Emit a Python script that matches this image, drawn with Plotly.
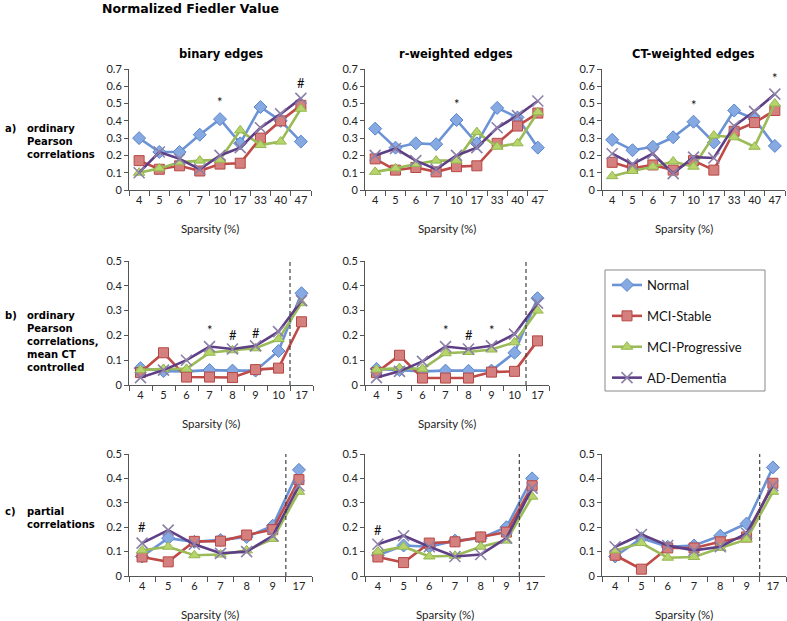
import plotly.graph_objects as go

W, H = 787, 621

groups = ["Normal", "MCI-Stable", "MCI-Progressive", "AD-Dementia"]
line_colors = ["#6b93d6", "#be4b48", "#9bbb59", "#5e3f86"]
marker_fill = ["#86a9e2", "#d3807e", "#b6d36c", "#b3a7c7"]
marker_line = ["#5a86cf", "#b84845", "#94b84f", "#8d80a8"]
symbols = ["diamond", "square", "triangle-up", "x-thin-open"]

cats_a = ["4", "5", "6", "7", "10", "17", "33", "40", "47"]
cats_b = ["4", "5", "6", "7", "8", "9", "10", "17"]
cats_c = ["4", "5", "6", "7", "8", "9", "17"]

# row a: ordinary Pearson correlations  [Normal, MCI-Stable, MCI-Progressive, AD-Dementia]
a_binary = [
    [0.30, 0.22, 0.22, 0.32, 0.41, 0.27, 0.48, 0.40, 0.28],
    [0.17, 0.12, 0.14, 0.11, 0.15, 0.155, 0.30, 0.40, 0.49],
    [0.10, 0.125, 0.16, 0.17, 0.175, 0.345, 0.26, 0.28, 0.47],
    [0.10, 0.22, 0.18, 0.12, 0.20, 0.245, 0.36, 0.44, 0.53],
]
a_rweighted = [
    [0.355, 0.245, 0.27, 0.265, 0.405, 0.27, 0.475, 0.42, 0.245],
    [0.18, 0.115, 0.13, 0.105, 0.135, 0.14, 0.27, 0.37, 0.445],
    [0.105, 0.125, 0.15, 0.17, 0.17, 0.335, 0.25, 0.27, 0.45],
    [0.20, 0.24, 0.17, 0.12, 0.20, 0.245, 0.36, 0.43, 0.515],
]
a_ctweighted = [
    [0.29, 0.23, 0.25, 0.305, 0.395, 0.275, 0.46, 0.41, 0.255],
    [0.16, 0.125, 0.145, 0.115, 0.17, 0.115, 0.34, 0.39, 0.46],
    [0.08, 0.11, 0.135, 0.165, 0.135, 0.315, 0.305, 0.25, 0.50],
    [0.21, 0.15, 0.21, 0.095, 0.19, 0.185, 0.37, 0.455, 0.555],
]
# row b: ordinary Pearson correlations, mean CT controlled
b_binary = [
    [0.068, 0.056, 0.055, 0.06, 0.058, 0.058, 0.137, 0.37],
    [0.05, 0.13, 0.032, 0.032, 0.03, 0.062, 0.068, 0.255],
    [0.06, 0.065, 0.065, 0.13, 0.14, 0.148, 0.185, 0.33],
    [0.03, 0.06, 0.10, 0.155, 0.145, 0.158, 0.215, 0.34],
]
b_rweighted = [
    [0.065, 0.06, 0.055, 0.058, 0.057, 0.058, 0.13, 0.35],
    [0.05, 0.12, 0.028, 0.028, 0.028, 0.052, 0.055, 0.178],
    [0.062, 0.068, 0.065, 0.128, 0.133, 0.143, 0.172, 0.30],
    [0.03, 0.055, 0.095, 0.155, 0.145, 0.158, 0.205, 0.33],
]
# row c: partial correlations
c_binary = [
    [0.08, 0.155, 0.14, 0.148, 0.16, 0.206, 0.435],
    [0.078, 0.058, 0.142, 0.143, 0.168, 0.19, 0.395],
    [0.105, 0.12, 0.085, 0.088, 0.105, 0.152, 0.345],
    [0.135, 0.188, 0.13, 0.093, 0.10, 0.165, 0.37],
]
c_rweighted = [
    [0.085, 0.125, 0.12, 0.145, 0.155, 0.20, 0.40],
    [0.078, 0.055, 0.135, 0.14, 0.16, 0.18, 0.37],
    [0.10, 0.12, 0.08, 0.083, 0.12, 0.145, 0.325],
    [0.13, 0.165, 0.12, 0.08, 0.088, 0.155, 0.36],
]
c_ctweighted = [
    [0.08, 0.155, 0.12, 0.125, 0.165, 0.215, 0.445],
    [0.085, 0.028, 0.115, 0.115, 0.14, 0.16, 0.38],
    [0.105, 0.135, 0.075, 0.078, 0.115, 0.15, 0.345],
    [0.12, 0.17, 0.125, 0.105, 0.12, 0.175, 0.37],
]

# significance marks: (category, value, symbol)
sig_a_binary = [("10", 0.51, "*"), ("47", 0.62, "#")]
sig_a_rweighted = [("10", 0.50, "*")]
sig_a_ctweighted = [("10", 0.49, "*"), ("47", 0.65, "*")]
sig_b_binary = [("7", 0.22, "*"), ("8", 0.20, "#"), ("9", 0.21, "#")]
sig_b_rweighted = [("7", 0.22, "*"), ("8", 0.20, "#"), ("9", 0.22, "*")]
sig_c_binary = [("4", 0.20, "#")]
sig_c_rweighted = [("4", 0.19, "#")]
sig_c_ctweighted = []

# layout in pixels: (x_left, x_right, y_top, y_bottom)
panels = [
    ((129, 311, 69, 190), cats_a, a_binary, 0.7, sig_a_binary, None),
    ((365, 548, 69, 190), cats_a, a_rweighted, 0.7, sig_a_rweighted, None),
    ((602, 785, 69, 190), cats_a, a_ctweighted, 0.7, sig_a_ctweighted, None),
    ((129, 313, 261, 385), cats_b, b_binary, 0.5, sig_b_binary, 6.5),
    ((365, 549, 261, 385), cats_b, b_rweighted, 0.5, sig_b_rweighted, 6.5),
    ((129, 312, 454, 576), cats_c, c_binary, 0.5, sig_c_binary, 5.5),
    ((365, 545, 454, 576), cats_c, c_rweighted, 0.5, sig_c_rweighted, 5.5),
    ((602, 786, 454, 576), cats_c, c_ctweighted, 0.5, sig_c_ctweighted, 5.5),
]

TICKFONT = dict(family="Lato, Liberation Sans, sans-serif", size=11, color="#222")
BOLD = "DejaVu Sans, Verdana, sans-serif"

fig = go.Figure()
layout = dict(
    template="none",
    width=W, height=H, margin=dict(l=0, r=0, t=0, b=0, autoexpand=False),
    paper_bgcolor="white", plot_bgcolor="white",
    showlegend=True,
)
shapes = []
annotations = []

def px_x(x):
    return x / W

def px_y(y):
    return 1 - y / H

for i, (box, cats, data, ymax, sigs, dash_x) in enumerate(panels):
    n = i + 1
    xa = "x" if n == 1 else f"x{n}"
    ya = "y" if n == 1 else f"y{n}"
    xl, xr, yt, yb = box
    for g in range(4):
        mk = dict(symbol=symbols[g], size=10 if g != 3 else 11,
                  color=marker_fill[g] if g != 3 else marker_line[g],
                  line=dict(color=marker_line[g], width=1 if g != 3 else 1.6))
        fig.add_trace(go.Scatter(
            x=cats, y=data[g], mode="lines+markers", name=groups[g],
            line=dict(color=line_colors[g], width=2.6),
            marker=mk, xaxis=xa, yaxis=ya,
            showlegend=(i == 0), legendgroup=groups[g],
        ))
    layout["xaxis" if n == 1 else f"xaxis{n}"] = dict(
        domain=[px_x(xl), px_x(xr)], anchor=ya, type="category",
        categoryorder="array", categoryarray=cats,
        range=[-0.5, len(cats) - 0.5], tickson="boundaries",
        ticks="outside", ticklen=5, tickcolor="#555", showline=True,
        linecolor="#555", linewidth=1, showgrid=False, zeroline=False,
        tickfont=TICKFONT, tickangle=0, automargin=False, fixedrange=True,
    )
    layout["yaxis" if n == 1 else f"yaxis{n}"] = dict(
        domain=[px_y(yb), px_y(yt)], anchor=xa, range=[0, ymax], dtick=0.1,
        ticks="outside", ticklen=4, tickcolor="#555", showline=True,
        linecolor="#555", linewidth=1, showgrid=False, zeroline=False,
        tickfont=TICKFONT, automargin=False, fixedrange=True,
    )
    for cat, val, s in sigs:
        annotations.append(dict(x=cats.index(cat), y=val, xref=xa, yref=ya, text=s,
                                showarrow=False, xanchor="center", yanchor="middle",
                                font=dict(family=TICKFONT["family"], size=13, color="#111")))
    if dash_x is not None:
        shapes.append(dict(type="line", xref=xa, yref=ya, x0=dash_x, x1=dash_x,
                           y0=0, y1=ymax, line=dict(color="#333", width=1.1, dash="4px,3px")))
    annotations.append(dict(x=px_x((xl + xr) / 2 - 10), y=px_y(yb + 38), xref="paper", yref="paper",
                            text="Sparsity (%)", showarrow=False, xanchor="center", yanchor="middle",
                            font=dict(family=TICKFONT["family"], size=11.5, color="#222")))

# legend box
shapes.append(dict(type="rect", xref="paper", yref="paper", x0=px_x(605), x1=px_x(765),
                   y0=px_y(391), y1=px_y(270), line=dict(color="#888", width=1)))
layout["legend"] = dict(x=px_x(607), y=px_y(270), xanchor="left", yanchor="top",
                        font=dict(family=TICKFONT["family"], size=13, color="#111"),
                        bgcolor="rgba(0,0,0,0)", borderwidth=0, tracegroupgap=11,
                        traceorder="grouped")

# titles
annotations.append(dict(x=px_x(100), y=px_y(9), xref="paper", yref="paper", xanchor="left",
                        yanchor="middle", text="<b>Normalized Fiedler Value</b>", showarrow=False,
                        font=dict(family=BOLD, size=12.5, color="#000")))
for cx, t in [(221, "binary edges"), (456, "r-weighted edges"), (693, "CT-weighted edges")]:
    annotations.append(dict(x=px_x(cx), y=px_y(54), xref="paper", yref="paper",
                            xanchor="center", yanchor="middle",
                            text=f"<b>{t}</b>", showarrow=False,
                            font=dict(family=BOLD, size=11.5, color="#000")))

# (tag, text, first-line centre y, block centre y)
row_labels = [
    ("a)", "ordinary<br>Pearson<br>correlations", 128, 141),
    ("b)", "ordinary<br>Pearson<br>correlations,<br>mean CT<br>controlled", 315, 341),
    ("c)", "partial<br>correlations", 511, 517.5),
]
for tag, txt, yfirst, yblock in row_labels:
    annotations.append(dict(x=px_x(3), y=px_y(yfirst), xref="paper", yref="paper",
                            xanchor="left", yanchor="middle", text=f"<b>{tag}</b>",
                            showarrow=False, font=dict(family=BOLD, size=10, color="#000")))
    annotations.append(dict(x=px_x(25), y=px_y(yblock), xref="paper", yref="paper",
                            xanchor="left", yanchor="middle", align="left", text=f"<b>{txt}</b>",
                            showarrow=False, font=dict(family=BOLD, size=10, color="#000")))

layout["shapes"] = shapes
layout["annotations"] = annotations
fig.update_layout(**layout)
fig.write_html(
    "out.html",
    config={"displayModeBar": False},
    post_script="document.body.style.margin='0';document.body.style.padding='0';"
                "document.body.style.overflow='hidden';",
)
